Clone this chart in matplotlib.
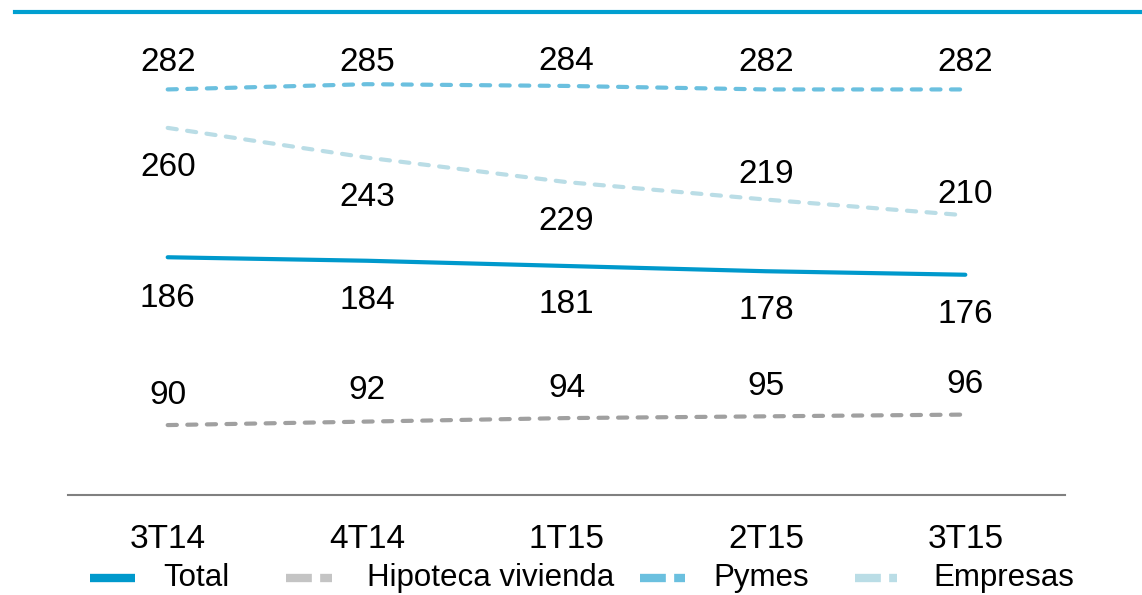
import matplotlib
matplotlib.use("Agg")
import matplotlib.pyplot as plt
from matplotlib.lines import Line2D

plt.rcParams['font.family'] = ['Liberation Sans', 'DejaVu Sans']

# Trimestres y series
quarters = ['3T14', '4T14', '1T15', '2T15', '3T15']
total = [186, 184, 181, 178, 176]
hipoteca = [90, 92, 94, 95, 96]
pymes = [282, 285, 284, 282, 282]
empresas = [260, 243, 229, 219, 210]

# desplazamiento vertical (px) de cada etiqueta respecto al punto
off_pymes = [27, 22, 24, 27, 27]
off_empresas = [-40, -40, -39, 25, 21]
off_total = [-41, -40, -39, -39, -40]
off_hipoteca = [30, 31, 30, 30, 30]

c_total = '#0099cc'
c_hip = '#a0a0a0'
c_hip_leg = '#c4c4c4'
c_pymes = '#6bc0df'
c_emp = '#badde6'

W, H = 1142, 595
fig = plt.figure(figsize=(W / 100, H / 100), dpi=100)
ax = fig.add_axes([68 / W, 1 - 495 / H, 997 / W, 465 / H])

x = list(range(len(quarters)))
dash = (2.2, 2.5)
ax.plot(x, pymes, color=c_pymes, lw=3, dashes=dash, dash_capstyle='round')
ax.plot(x, empresas, color=c_emp, lw=3, dashes=dash, dash_capstyle='round')
ax.plot(x, total, color=c_total, lw=3, solid_capstyle='round')
ax.plot(x, hipoteca, color=c_hip, lw=3, dashes=dash, dash_capstyle='round')

for vals, offs in [(pymes, off_pymes), (empresas, off_empresas),
                   (total, off_total), (hipoteca, off_hipoteca)]:
    for xi, v, o in zip(x, vals, offs):
        ax.annotate(str(v), (xi, v), xytext=(0, o), textcoords='offset pixels',
                    ha='center', va='center', fontsize=24, color='black')

ax.set_xlim(-0.5, 4.5)
ax.set_ylim(50, 316)
ax.set_xticks(x)
ax.set_xticklabels(quarters, fontsize=24)
ax.set_yticks([])
ax.tick_params(axis='x', length=0, pad=21)
for s in ['top', 'right', 'left']:
    ax.spines[s].set_visible(False)
ax.spines['bottom'].set_color('#808080')
ax.spines['bottom'].set_linewidth(1.5)

# linea decorativa superior
fig.add_artist(Line2D([15 / W, 1], [1 - 12 / H] * 2, color='#009fd0', lw=3,
                      transform=fig.transFigure))

# leyenda inferior: muestra (x0, x1) y posicion del texto en px
legend_items = [
    ('Total', c_total, None, 90, 135, 163),
    ('Hipoteca vivienda', c_hip_leg, (3.1, 1.0), 286, 332, 367),
    ('Pymes', c_pymes, (3.1, 1.0), 640, 685, 713),
    ('Empresas', c_emp, (3.1, 1.0), 855, 897, 933),
]
ly = 1 - 578 / H
for label, color, dsh, x0, x1, xt in legend_items:
    ln = Line2D([x0 / W, x1 / W], [ly, ly], color=color, lw=6,
                solid_capstyle='butt', dash_capstyle='butt',
                transform=fig.transFigure)
    if dsh is not None:
        ln.set_dashes(dsh)
    fig.add_artist(ln)
    fig.text(xt / W, ly, label, ha='left', va='center', fontsize=22.5)

fig.savefig('out.png', dpi=100)
